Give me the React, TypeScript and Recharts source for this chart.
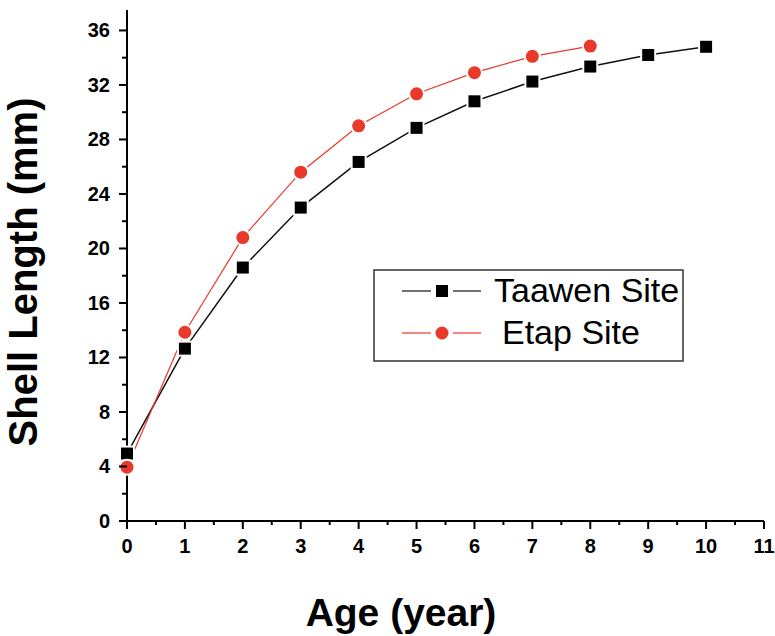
import React from "react";
import { Legend, Line, LineChart, XAxis, YAxis } from "recharts";

// shell length (mm) by age (year)
const ages = [0, 1, 2, 3, 4, 5, 6, 7, 8, 9, 10];
const taawenLength = [4.95, 12.65, 18.6, 23.0, 26.35, 28.85, 30.8, 32.25, 33.35, 34.2, 34.8];
const etapLength = [3.95, 13.85, 20.8, 25.6, 29.0, 31.35, 32.9, 34.1, 34.85];

const xTicks = [0, 0.5, 1, 1.5, 2, 2.5, 3, 3.5, 4, 4.5, 5, 5.5, 6, 6.5, 7, 7.5, 8, 8.5, 9, 9.5, 10, 10.5, 11];
const yTicks = [0, 2, 4, 6, 8, 10, 12, 14, 16, 18, 20, 22, 24, 26, 28, 30, 32, 34, 36];

const FONT = "Arial, 'Liberation Sans', Helvetica, sans-serif";
const RED = "#e8392b";
const BLACK = "#111";

const data = ages.map((age, i) => ({
  age,
  taawen: taawenLength[i],
  etap: etapLength[i],
}));

function XTick({ x, y, payload }: any) {
  const v = payload.value;
  const major = Number.isInteger(v);
  return (
    <g>
      <line x1={x} x2={x} y1={y} y2={y + (major ? 8 : 4)} stroke="#000" strokeWidth={2} />
      {major && (
        <text x={x} y={y + 32} textAnchor="middle" fontSize={20} fontWeight="bold" fontFamily={FONT} fill="#000">
          {v}
        </text>
      )}
    </g>
  );
}

function YTick({ x, y, payload }: any) {
  const v = payload.value;
  const major = v % 4 === 0;
  return (
    <g>
      <line x1={x} x2={x - (major ? 8 : 5)} y1={y} y2={y} stroke="#000" strokeWidth={2} />
      {major && (
        <text x={x - 17} y={y + 7} textAnchor="end" fontSize={20} fontWeight="bold" fontFamily={FONT} fill="#000">
          {v}
        </text>
      )}
    </g>
  );
}

function SquareDot({ cx, cy, index }: any) {
  if (cx == null || cy == null) return <g key={index} />;
  return <rect key={index} x={cx - 7} y={cy - 7} width={14} height={14} fill="#000" stroke="#fff" strokeWidth={2} />;
}

function CircleDot({ cx, cy, index }: any) {
  if (cx == null || cy == null) return <g key={index} />;
  return <circle key={index} cx={cx} cy={cy} r={7.5} fill={RED} stroke="#fff" strokeWidth={2} />;
}

function LegendBox() {
  return (
    <svg width={311} height={93} style={{ display: "block" }}>
      <rect x={1} y={1} width={309} height={91} fill="#fff" stroke="#333" strokeWidth={1.5} />
      <line x1={29} x2={58} y1={22} y2={22} stroke={BLACK} strokeWidth={1.2} />
      <line x1={80} x2={108} y1={22} y2={22} stroke={BLACK} strokeWidth={1.2} />
      <rect x={63} y={16} width={12} height={12} fill="#000" />
      <text x={121} y={33} fontSize={34} fontFamily={FONT} fill="#000">
        Taawen Site
      </text>
      <line x1={29} x2={58} y1={64} y2={64} stroke={RED} strokeWidth={1.2} />
      <line x1={80} x2={108} y1={64} y2={64} stroke={RED} strokeWidth={1.2} />
      <circle cx={69} cy={64} r={6.5} fill={RED} />
      <text x={129} y={75} fontSize={34} fontFamily={FONT} fill="#000">
        Etap Site
      </text>
    </svg>
  );
}

export default function App() {
  return (
    <div style={{ position: "absolute", left: 0, top: 0, width: 775, height: 636, background: "#fff" }}>
      <LineChart width={775} height={636} data={data} margin={{ top: 10, right: 11, left: 0, bottom: 0 }}>
        <XAxis
          dataKey="age"
          type="number"
          domain={[0, 11]}
          ticks={xTicks}
          interval={0}
          height={115}
          tickSize={0}
          tickMargin={0}
          tick={<XTick />}
          axisLine={{ stroke: "#000", strokeWidth: 2 }}
          label={{
            content: ({ viewBox }: any) => (
              <text
                x={viewBox.x + 274}
                y={viewBox.y + 105}
                textAnchor="middle"
                fontSize={39}
                fontWeight="bold"
                fontFamily={FONT}
                fill="#000"
              >
                Age (year)
              </text>
            ),
          }}
        />
        <YAxis
          type="number"
          domain={[0, 37.5]}
          ticks={yTicks}
          interval={0}
          width={127}
          tickSize={0}
          tickMargin={0}
          tick={<YTick />}
          allowDataOverflow
          axisLine={{ stroke: "#000", strokeWidth: 2 }}
          label={{
            content: ({ viewBox }: any) => (
              <text
                x={37}
                y={viewBox.y + 262}
                transform={`rotate(-90, 37, ${viewBox.y + 262})`}
                textAnchor="middle"
                fontSize={40}
                fontWeight="bold"
                fontFamily={FONT}
                fill="#000"
              >
                Shell Length (mm)
              </text>
            ),
          }}
        />
        <Legend
          layout="vertical"
          align="center"
          verticalAlign="middle"
          content={<LegendBox />}
          wrapperStyle={{ position: "absolute", left: 373, top: 269, width: 311, height: 93 }}
        />
        <Line
          type="linear"
          dataKey="taawen"
          name="Taawen Site"
          stroke={BLACK}
          strokeWidth={1.5}
          dot={<SquareDot />}
          isAnimationActive={false}
        />
        <Line
          type="linear"
          dataKey="etap"
          name="Etap Site"
          stroke={RED}
          strokeWidth={1.2}
          dot={<CircleDot />}
          isAnimationActive={false}
        />
      </LineChart>
    </div>
  );
}
